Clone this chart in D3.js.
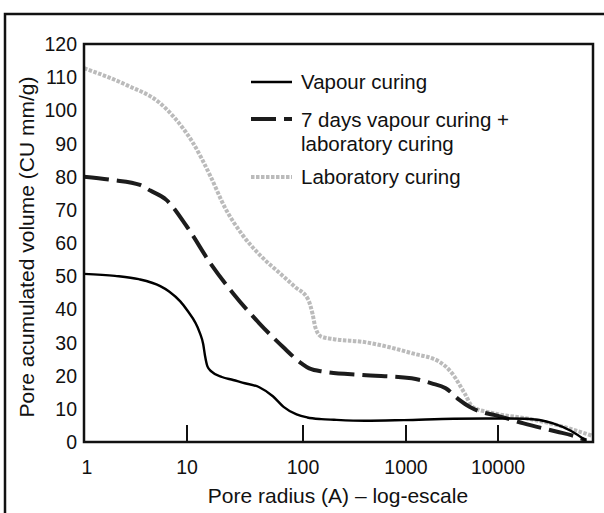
<!DOCTYPE html>
<html>
<head>
<meta charset="utf-8">
<script src="https://cdn.jsdelivr.net/npm/d3@7"></script>
<style>
  body { margin: 0; background: #fff; }
  svg text { font-family: "Liberation Sans", Arial, sans-serif; fill: #111; }
</style>
</head>
<body>
<svg id="chart" width="604" height="513"></svg>
<script>
// ---- data ----
const xTicks = [1, 10, 100, 1000, 10000];
const yTicks = [0, 10, 20, 30, 40, 50, 60, 70, 80, 90, 100, 110, 120];

// Vapour curing
const vapourR = [1, 2, 3.4, 5.5, 6.7, 8.6, 10, 12.9, 13.8, 14.3, 15, 16.3, 20, 25, 30, 42, 55, 68, 88, 110, 150, 200, 400, 950, 3300, 10000, 19600, 38000, 59000, 85000];
const vapourV = [50.7, 50.1, 49.1, 47, 45.4, 42.4, 39.8, 32.9, 29.5, 26, 22.8, 21.2, 19.6, 18.7, 17.9, 16.5, 13.8, 10.6, 8.3, 7.4, 6.9, 6.7, 6.4, 6.6, 7.0, 7.1, 7.0, 5.6, 3.3, 0.3];

// 7 days vapour curing + laboratory curing
const mixedR = [1, 1.9, 3.5, 4.4, 6.3, 10, 15.9, 25, 42, 67, 97, 115, 160, 380, 1150, 1900, 2700, 3800, 4900, 7100, 9300, 18600, 42000, 60000, 85000];
const mixedV = [80, 79, 77.5, 75.8, 73, 64.9, 53.9, 44.8, 35.8, 28.7, 23.7, 22.2, 21.2, 20.2, 19.2, 17.7, 16.2, 12.7, 10.6, 8.8, 8.1, 5.6, 3.1, 2.0, 0.5];

// Laboratory curing
const labR = [1, 2.6, 5.5, 7.4, 11.3, 16, 21, 30, 45, 65, 85, 112, 124, 132, 150, 200, 380, 1180, 2300, 3170, 4330, 5300, 7800, 10400, 20000, 42000, 100000];
const labV = [112.7, 107.6, 102.1, 98.1, 90.1, 80, 71, 62.5, 55.5, 50.5, 46.8, 43, 38.5, 34.5, 31.8, 31, 30.2, 26.7, 24.2, 20.7, 14.7, 10.6, 9.0, 8.3, 7.1, 5.1, 1.8];

const seriesNames = ["Vapour curing", "7 days vapour curing +\nlaboratory curing", "Laboratory curing"];

// ---- layout / styles ----
const svg = d3.select("#chart");
const plotL = 84, plotR = 593, plotT = 44, plotB = 442;

// the axis of the original is only roughly logarithmic: piecewise over decades
const x = d3.scaleLinear().domain([0, 1, 2, 3, 4, 5]).range([84, 187, 303, 406, 498, 593]);
const y = d3.scaleLinear().domain([0, 120]).range([plotB, plotT]);

const styles = [
  { stroke: "#000", width: 2.4, dash: null },
  { stroke: "#1c1c1c", width: 4, dash: "25,8" },
  { stroke: "#bbbbbb", width: 4, dash: "3.5,1.5" }
];

const series = [
  vapourR.map((r, i) => [r, vapourV[i]]),
  mixedR.map((r, i) => [r, mixedV[i]]),
  labR.map((r, i) => [r, labV[i]])
];

// outer frame
svg.append("rect")
  .attr("x", 5).attr("y", 14).attr("width", 800).attr("height", 800)
  .attr("fill", "none").attr("stroke", "#111").attr("stroke-width", 2.5);

// curves
const line = d3.line()
  .x(d => x(Math.log10(d[0])))
  .y(d => y(d[1]))
  .curve(d3.curveMonotoneX);

// draw lab first so the dark ones sit on top
[2, 1, 0].forEach(k => {
  svg.append("path")
    .datum(series[k])
    .attr("d", line)
    .attr("fill", "none")
    .attr("stroke", styles[k].stroke)
    .attr("stroke-width", styles[k].width)
    .attr("stroke-dasharray", styles[k].dash)
    .attr("stroke-linejoin", "round");
});

// plot frame
svg.append("rect")
  .attr("x", plotL).attr("y", plotT)
  .attr("width", plotR - plotL).attr("height", plotB - plotT)
  .attr("fill", "none").attr("stroke", "#111").attr("stroke-width", 2.5);

// x ticks (inward)
svg.selectAll(".xtick").data(xTicks.slice(1)).enter().append("line")
  .attr("x1", d => x(Math.log10(d))).attr("x2", d => x(Math.log10(d)))
  .attr("y1", plotB).attr("y2", plotB - 17)
  .attr("stroke", "#111").attr("stroke-width", 2);

svg.selectAll(".xlab").data(xTicks).enter().append("text")
  .attr("x", d => x(Math.log10(d)) + (d === 1 ? 3 : 0))
  .attr("y", 474)
  .attr("text-anchor", "middle")
  .attr("font-size", 19.5)
  .text(d => d);

svg.selectAll(".ylab").data(yTicks).enter().append("text")
  .attr("x", 77)
  .attr("y", d => y(d))
  .attr("dy", "0.36em")
  .attr("text-anchor", "end")
  .attr("font-size", 19.5)
  .text(d => d);

// axis titles
svg.append("text")
  .attr("x", 338).attr("y", 503)
  .attr("text-anchor", "middle")
  .attr("font-size", 21)
  .text("Pore radius (A) \u2013 log-escale");

svg.append("text")
  .attr("transform", "translate(34,247) rotate(-90)")
  .attr("text-anchor", "middle")
  .attr("font-size", 21)
  .text("Pore acumulated volume (CU mm/g)");

// legend
const legendRows = [
  { sampleY: 82, lines: [89] },
  { sampleY: 119, lines: [127, 151] },
  { sampleY: 177, lines: [184] }
];
legendRows.forEach((row, k) => {
  svg.append("line")
    .attr("x1", 251).attr("x2", 292)
    .attr("y1", row.sampleY).attr("y2", row.sampleY)
    .attr("stroke", styles[k].stroke)
    .attr("stroke-width", styles[k].width)
    .attr("stroke-dasharray", styles[k].dash);
  const parts = seriesNames[k].split("\n");
  parts.forEach((t, j) => {
    svg.append("text")
      .attr("x", 301).attr("y", row.lines[j])
      .attr("font-size", 20.5)
      .text(t);
  });
});
</script>
</body>
</html>
